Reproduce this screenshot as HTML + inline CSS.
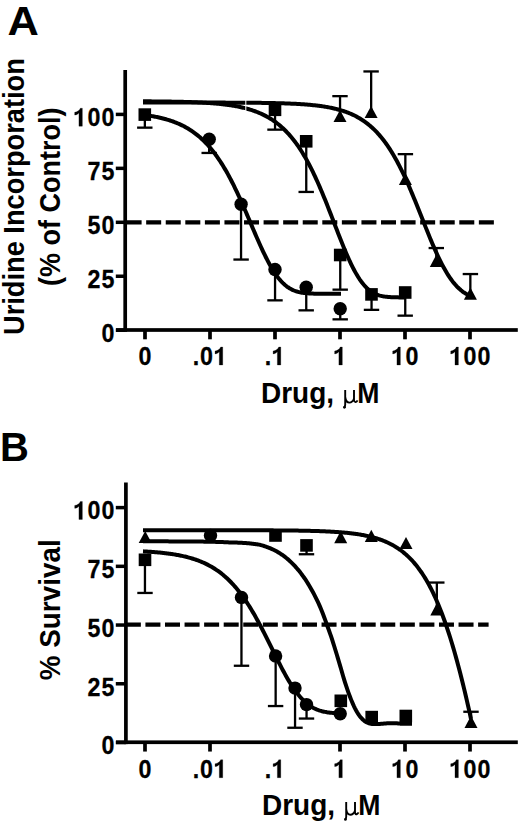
<!DOCTYPE html>
<html><head><meta charset="utf-8"><style>
html,body{margin:0;padding:0;background:#fff;width:520px;height:823px;overflow:hidden}
svg{display:block}
</style></head><body>
<svg width="520" height="823" viewBox="0 0 520 823">
<rect width="520" height="823" fill="#fff"/>
<g font-family="Liberation Sans, sans-serif" font-weight="bold" fill="#000">
<text transform="translate(7.6,35.1) scale(1.085,1.01)" font-size="40">A</text>
<text x="0" y="461.3" font-size="40">B</text>
<g font-size="25" stroke="#000" stroke-width="0.25">
<path transform="translate(73.09,126.20) scale(0.012207,-0.012756)" stroke-width="20" d="M478,0 H759 V1409 H590 C540,1260 360,1120 130,1090 V870 C270,880 400,940 478,1040 Z"/><text transform="translate(93.94,126.20) scale(0.93,1.045)" text-anchor="middle">0</text><text transform="translate(107.85,126.20) scale(0.93,1.045)" text-anchor="middle">0</text>
<text transform="translate(93.94,180.15) scale(0.93,1.045)" text-anchor="middle">7</text><text transform="translate(107.85,180.15) scale(0.93,1.045)" text-anchor="middle">5</text>
<text transform="translate(93.94,234.10) scale(0.93,1.045)" text-anchor="middle">5</text><text transform="translate(107.85,234.10) scale(0.93,1.045)" text-anchor="middle">0</text>
<text transform="translate(93.94,288.05) scale(0.93,1.045)" text-anchor="middle">2</text><text transform="translate(107.85,288.05) scale(0.93,1.045)" text-anchor="middle">5</text>
<text transform="translate(107.85,342.00) scale(0.93,1.045)" text-anchor="middle">0</text>
<text transform="translate(145.00,365.00) scale(0.93,1.045)" text-anchor="middle">0</text>
<text transform="translate(196.10,365.00) scale(0.93,1.045)" text-anchor="middle">.</text><text transform="translate(206.52,365.00) scale(0.93,1.045)" text-anchor="middle">0</text><path transform="translate(213.47,365.00) scale(0.012207,-0.012756)" stroke-width="20" d="M478,0 H759 V1409 H590 C540,1260 360,1120 130,1090 V870 C270,880 400,940 478,1040 Z"/>
<text transform="translate(268.05,365.00) scale(0.93,1.045)" text-anchor="middle">.</text><path transform="translate(271.52,365.00) scale(0.012207,-0.012756)" stroke-width="20" d="M478,0 H759 V1409 H590 C540,1260 360,1120 130,1090 V870 C270,880 400,940 478,1040 Z"/>
<path transform="translate(333.05,365.00) scale(0.012207,-0.012756)" stroke-width="20" d="M478,0 H759 V1409 H590 C540,1260 360,1120 130,1090 V870 C270,880 400,940 478,1040 Z"/>
<path transform="translate(391.10,365.00) scale(0.012207,-0.012756)" stroke-width="20" d="M478,0 H759 V1409 H590 C540,1260 360,1120 130,1090 V870 C270,880 400,940 478,1040 Z"/><text transform="translate(411.95,365.00) scale(0.93,1.045)" text-anchor="middle">0</text>
<path transform="translate(449.14,365.00) scale(0.012207,-0.012756)" stroke-width="20" d="M478,0 H759 V1409 H590 C540,1260 360,1120 130,1090 V870 C270,880 400,940 478,1040 Z"/><text transform="translate(470.00,365.00) scale(0.93,1.045)" text-anchor="middle">0</text><text transform="translate(483.90,365.00) scale(0.93,1.045)" text-anchor="middle">0</text>
<path transform="translate(73.09,519.40) scale(0.012207,-0.012756)" stroke-width="20" d="M478,0 H759 V1409 H590 C540,1260 360,1120 130,1090 V870 C270,880 400,940 478,1040 Z"/><text transform="translate(93.94,519.40) scale(0.93,1.045)" text-anchor="middle">0</text><text transform="translate(107.85,519.40) scale(0.93,1.045)" text-anchor="middle">0</text>
<text transform="translate(93.94,578.12) scale(0.93,1.045)" text-anchor="middle">7</text><text transform="translate(107.85,578.12) scale(0.93,1.045)" text-anchor="middle">5</text>
<text transform="translate(93.94,636.85) scale(0.93,1.045)" text-anchor="middle">5</text><text transform="translate(107.85,636.85) scale(0.93,1.045)" text-anchor="middle">0</text>
<text transform="translate(93.94,695.57) scale(0.93,1.045)" text-anchor="middle">2</text><text transform="translate(107.85,695.57) scale(0.93,1.045)" text-anchor="middle">5</text>
<text transform="translate(107.85,754.30) scale(0.93,1.045)" text-anchor="middle">0</text>
<text transform="translate(145.00,777.70) scale(0.93,1.045)" text-anchor="middle">0</text>
<text transform="translate(196.10,777.70) scale(0.93,1.045)" text-anchor="middle">.</text><text transform="translate(206.52,777.70) scale(0.93,1.045)" text-anchor="middle">0</text><path transform="translate(213.47,777.70) scale(0.012207,-0.012756)" stroke-width="20" d="M478,0 H759 V1409 H590 C540,1260 360,1120 130,1090 V870 C270,880 400,940 478,1040 Z"/>
<text transform="translate(268.05,777.70) scale(0.93,1.045)" text-anchor="middle">.</text><path transform="translate(271.52,777.70) scale(0.012207,-0.012756)" stroke-width="20" d="M478,0 H759 V1409 H590 C540,1260 360,1120 130,1090 V870 C270,880 400,940 478,1040 Z"/>
<path transform="translate(333.05,777.70) scale(0.012207,-0.012756)" stroke-width="20" d="M478,0 H759 V1409 H590 C540,1260 360,1120 130,1090 V870 C270,880 400,940 478,1040 Z"/>
<path transform="translate(391.10,777.70) scale(0.012207,-0.012756)" stroke-width="20" d="M478,0 H759 V1409 H590 C540,1260 360,1120 130,1090 V870 C270,880 400,940 478,1040 Z"/><text transform="translate(411.95,777.70) scale(0.93,1.045)" text-anchor="middle">0</text>
<path transform="translate(449.14,777.70) scale(0.012207,-0.012756)" stroke-width="20" d="M478,0 H759 V1409 H590 C540,1260 360,1120 130,1090 V870 C270,880 400,940 478,1040 Z"/><text transform="translate(470.00,777.70) scale(0.93,1.045)" text-anchor="middle">0</text><text transform="translate(483.90,777.70) scale(0.93,1.045)" text-anchor="middle">0</text>
</g>
<g font-size="28">
<g transform="translate(0,0)"><text transform="translate(261,402.5) scale(1,1.065)">Drug,</text><text transform="translate(357.3,402.5) scale(0.95,1.065)">M</text><path d="M345.2,389.9 V404.6 Q345.1,406.3 344.4,407.4 M345.3,397.5 Q346.2,402.6 349.3,402.6 Q352.6,402.6 353.9,398.8 M354,389.9 V400.2 Q354.3,402.3 355.7,402.1 Q356.8,401.9 357.5,400.3" fill="none" stroke="#000" stroke-width="1.9"/><circle cx="344.4" cy="407.3" r="1.35"/></g>
<g transform="translate(1.0,412.1)"><text transform="translate(261,402.5) scale(1,1.065)">Drug,</text><text transform="translate(357.3,402.5) scale(0.95,1.065)">M</text><path d="M345.2,389.9 V404.6 Q345.1,406.3 344.4,407.4 M345.3,397.5 Q346.2,402.6 349.3,402.6 Q352.6,402.6 353.9,398.8 M354,389.9 V400.2 Q354.3,402.3 355.7,402.1 Q356.8,401.9 357.5,400.3" fill="none" stroke="#000" stroke-width="1.9"/><circle cx="344.4" cy="407.3" r="1.35"/></g>
<text transform="translate(23.8,335) rotate(-90) scale(1,1.11)" font-size="27.25">Uridine Incorporation</text>
<text transform="translate(59.6,286) rotate(-90) scale(1,1.09)" font-size="27">(% of Control)</text>
<text transform="translate(60,680.2) rotate(-90) scale(1,1.05)" font-size="27.85">% Survival</text>
</g>
</g>
<g fill="#000">
<rect x="123.35000000000001" y="70" width="3.7" height="261.85"/>
<rect x="116" y="328.15" width="401.79999999999995" height="3.7"/>
<rect x="115.8" y="112.65" width="9.400000000000006" height="3.5"/>
<rect x="115.8" y="166.6" width="9.400000000000006" height="3.5"/>
<rect x="115.8" y="220.55" width="9.400000000000006" height="3.5"/>
<rect x="115.8" y="274.5" width="9.400000000000006" height="3.5"/>
<rect x="115.8" y="328.45" width="9.400000000000006" height="3.5"/>
<rect x="143.15" y="330.0" width="3.7" height="9.3"/>
<rect x="208.15" y="330.0" width="3.7" height="9.3"/>
<rect x="273.15" y="330.0" width="3.7" height="9.3"/>
<rect x="338.15" y="330.0" width="3.7" height="9.3"/>
<rect x="403.15" y="330.0" width="3.7" height="9.3"/>
<rect x="468.15" y="330.0" width="3.7" height="9.3"/>
<rect x="124.05000000000001" y="482.5" width="3.7" height="261.6"/>
<rect x="116" y="740.4" width="401.79999999999995" height="3.7"/>
<rect x="115.8" y="505.84999999999997" width="10.100000000000009" height="3.5"/>
<rect x="115.8" y="564.575" width="10.100000000000009" height="3.5"/>
<rect x="115.8" y="623.3" width="10.100000000000009" height="3.5"/>
<rect x="115.8" y="682.025" width="10.100000000000009" height="3.5"/>
<rect x="115.8" y="740.75" width="10.100000000000009" height="3.5"/>
<rect x="143.15" y="742.25" width="3.7" height="9.3"/>
<rect x="208.15" y="742.25" width="3.7" height="9.3"/>
<rect x="338.15" y="742.25" width="3.7" height="9.3"/>
<rect x="403.15" y="742.25" width="3.7" height="9.3"/>
<rect x="468.15" y="742.25" width="3.7" height="9.3"/>
</g>
<g stroke="#000" stroke-width="4.2" stroke-dasharray="15 4.57" fill="none">
<path d="M126.6,222.3 H494"/>
<path d="M125.85,624.6 H488.6"/>
</g>
<g stroke="#000" stroke-width="4.0" fill="none" stroke-linejoin="round">
<path d="M143.0,114.79 L144.0,114.92 L145.0,115.05 L146.0,115.19 L147.0,115.33 L148.0,115.48 L149.0,115.63 L150.0,115.79 L151.0,115.95 L152.0,116.12 L153.0,116.30 L154.0,116.48 L155.0,116.67 L156.0,116.87 L157.0,117.07 L158.0,117.28 L159.0,117.50 L160.0,117.73 L161.0,117.96 L162.0,118.20 L163.0,118.46 L164.0,118.72 L165.0,118.99 L166.0,119.26 L167.0,119.55 L168.0,119.85 L169.0,120.16 L170.0,120.48 L171.0,120.81 L172.0,121.16 L173.0,121.51 L174.0,121.88 L175.0,122.26 L176.0,122.66 L177.0,123.07 L178.0,123.49 L179.0,123.92 L180.0,124.38 L181.0,124.84 L182.0,125.33 L183.0,125.83 L184.0,126.34 L185.0,126.88 L186.0,127.43 L187.0,128.00 L188.0,128.59 L189.0,129.20 L190.0,129.83 L191.0,130.48 L192.0,131.15 L193.0,131.84 L194.0,132.55 L195.0,133.29 L196.0,134.06 L197.0,134.84 L198.0,135.65 L199.0,136.49 L200.0,137.35 L201.0,138.24 L202.0,139.16 L203.0,140.11 L204.0,141.08 L205.0,142.08 L206.0,143.12 L207.0,144.18 L208.0,145.27 L209.0,146.40 L210.0,147.56 L211.0,148.75 L212.0,149.97 L213.0,151.23 L214.0,152.52 L215.0,153.85 L216.0,155.21 L217.0,156.61 L218.0,158.04 L219.0,159.51 L220.0,161.02 L221.0,162.56 L222.0,164.14 L223.0,165.76 L224.0,167.42 L225.0,169.11 L226.0,170.84 L227.0,172.60 L228.0,174.40 L229.0,176.24 L230.0,178.12 L231.0,180.03 L232.0,181.97 L233.0,183.95 L234.0,185.96 L235.0,188.01 L236.0,190.09 L237.0,192.19 L238.0,194.33 L239.0,196.50 L240.0,198.69 L241.0,200.90 L242.0,203.14 L243.0,205.41 L244.0,207.69 L245.0,209.98 L246.0,212.30 L247.0,214.62 L248.0,216.96 L249.0,219.30 L250.0,221.65 L251.0,224.00 L252.0,226.36 L253.0,228.70 L254.0,231.05 L255.0,233.38 L256.0,235.70 L257.0,238.00 L258.0,240.29 L259.0,242.55 L260.0,244.79 L261.0,246.99 L262.0,249.17 L263.0,251.31 L264.0,253.41 L265.0,255.48 L266.0,257.49 L267.0,259.46 L268.0,261.39 L269.0,263.26 L270.0,265.07 L271.0,266.83 L272.0,268.54 L273.0,270.18 L274.0,271.76 L275.0,273.28 L276.0,274.73 L277.0,276.12 L278.0,277.45 L279.0,278.71 L280.0,279.91 L281.0,281.04 L282.0,282.11 L283.0,283.12 L284.0,284.07 L285.0,284.95 L286.0,285.78 L287.0,286.55 L288.0,287.26 L289.0,287.92 L290.0,288.53 L291.0,289.09 L292.0,289.60 L293.0,290.07 L294.0,290.49 L295.0,290.88 L296.0,291.23 L297.0,291.54 L298.0,291.82 L299.0,292.08 L300.0,292.30 L301.0,292.50 L302.0,292.68 L303.0,292.83 L304.0,292.97 L305.0,293.09 L306.0,293.20 L307.0,293.29 L308.0,293.36 L309.0,293.43 L310.0,293.49 L311.0,293.54 L312.0,293.58 L313.0,293.62 L314.0,293.65 L315.0,293.68 L316.0,293.70 L317.0,293.71 L318.0,293.73 L319.0,293.74 L320.0,293.75 L321.0,293.76 L322.0,293.77 L323.0,293.77 L324.0,293.78 L325.0,293.78 L326.0,293.78 L327.0,293.79 L328.0,293.79 L329.0,293.79 L330.0,293.79 L331.0,293.79 L332.0,293.79 L333.0,293.79 L334.0,293.79 L335.0,293.79 L336.0,293.79 L337.0,293.79 L338.0,293.79 L339.0,293.80 L340.0,293.80 L341.0,293.80"/>
<path d="M143.0,101.31 L144.0,101.32 L145.0,101.33 L146.0,101.33 L147.0,101.34 L148.0,101.35 L149.0,101.35 L150.0,101.36 L151.0,101.37 L152.0,101.38 L153.0,101.39 L154.0,101.39 L155.0,101.40 L156.0,101.41 L157.0,101.42 L158.0,101.43 L159.0,101.44 L160.0,101.45 L161.0,101.47 L162.0,101.48 L163.0,101.49 L164.0,101.50 L165.0,101.52 L166.0,101.53 L167.0,101.55 L168.0,101.56 L169.0,101.58 L170.0,101.59 L171.0,101.61 L172.0,101.63 L173.0,101.64 L174.0,101.66 L175.0,101.68 L176.0,101.70 L177.0,101.72 L178.0,101.74 L179.0,101.77 L180.0,101.79 L181.0,101.81 L182.0,101.84 L183.0,101.86 L184.0,101.89 L185.0,101.92 L186.0,101.95 L187.0,101.98 L188.0,102.01 L189.0,102.04 L190.0,102.08 L191.0,102.11 L192.0,102.15 L193.0,102.19 L194.0,102.22 L195.0,102.26 L196.0,102.31 L197.0,102.35 L198.0,102.40 L199.0,102.44 L200.0,102.49 L201.0,102.54 L202.0,102.59 L203.0,102.65 L204.0,102.71 L205.0,102.76 L206.0,102.82 L207.0,102.89 L208.0,102.95 L209.0,103.02 L210.0,103.09 L211.0,103.16 L212.0,103.24 L213.0,103.32 L214.0,103.40 L215.0,103.48 L216.0,103.57 L217.0,103.66 L218.0,103.76 L219.0,103.86 L220.0,103.96 L221.0,104.06 L222.0,104.17 L223.0,104.29 L224.0,104.40 L225.0,104.53 L226.0,104.65 L227.0,104.78 L228.0,104.92 L229.0,105.06 L230.0,105.21 L231.0,105.36 L232.0,105.52 L233.0,105.68 L234.0,105.85 L235.0,106.02 L236.0,106.21 L237.0,106.39 L238.0,106.59 L239.0,106.79 L240.0,107.00 L241.0,107.22 L242.0,107.45 L243.0,107.68 L244.0,107.92 L245.0,108.17 L246.0,108.43 L247.0,108.70 L248.0,108.98 L249.0,109.27 L250.0,109.57 L251.0,109.89 L252.0,110.21 L253.0,110.54 L254.0,110.89 L255.0,111.25 L256.0,111.62 L257.0,112.00 L258.0,112.40 L259.0,112.81 L260.0,113.24 L261.0,113.68 L262.0,114.14 L263.0,114.61 L264.0,115.10 L265.0,115.61 L266.0,116.13 L267.0,116.67 L268.0,117.24 L269.0,117.82 L270.0,118.42 L271.0,119.04 L272.0,119.68 L273.0,120.34 L274.0,121.03 L275.0,121.74 L276.0,122.47 L277.0,123.23 L278.0,124.01 L279.0,124.82 L280.0,125.65 L281.0,126.51 L282.0,127.40 L283.0,128.32 L284.0,129.26 L285.0,130.24 L286.0,131.25 L287.0,132.28 L288.0,133.35 L289.0,134.46 L290.0,135.59 L291.0,136.76 L292.0,137.97 L293.0,139.21 L294.0,140.48 L295.0,141.80 L296.0,143.15 L297.0,144.53 L298.0,145.96 L299.0,147.43 L300.0,148.93 L301.0,150.47 L302.0,152.06 L303.0,153.69 L304.0,155.35 L305.0,157.06 L306.0,158.81 L307.0,160.60 L308.0,162.44 L309.0,164.31 L310.0,166.23 L311.0,168.18 L312.0,170.18 L313.0,172.22 L314.0,174.30 L315.0,176.42 L316.0,178.58 L317.0,180.78 L318.0,183.01 L319.0,185.28 L320.0,187.59 L321.0,189.93 L322.0,192.30 L323.0,194.71 L324.0,197.14 L325.0,199.60 L326.0,202.08 L327.0,204.59 L328.0,207.12 L329.0,209.67 L330.0,212.23 L331.0,214.80 L332.0,217.39 L333.0,219.98 L334.0,222.57 L335.0,225.17 L336.0,227.76 L337.0,230.34 L338.0,232.92 L339.0,235.48 L340.0,238.03 L341.0,240.55 L342.0,243.05 L343.0,245.52 L344.0,247.95 L345.0,250.35 L346.0,252.71 L347.0,255.03 L348.0,257.30 L349.0,259.52 L350.0,261.68 L351.0,263.79 L352.0,265.84 L353.0,267.82 L354.0,269.74 L355.0,271.59 L356.0,273.38 L357.0,275.09 L358.0,276.73 L359.0,278.30 L360.0,279.80 L361.0,281.22 L362.0,282.56 L363.0,283.83 L364.0,285.03 L365.0,286.15 L366.0,287.21 L367.0,288.19 L368.0,289.10 L369.0,289.95 L370.0,290.73 L371.0,291.45 L372.0,292.12 L373.0,292.72 L374.0,293.27 L375.0,293.77 L376.0,294.22 L377.0,294.63 L378.0,294.99 L379.0,295.32 L380.0,295.61 L381.0,295.86 L382.0,296.09 L383.0,296.29 L384.0,296.46 L385.0,296.61 L386.0,296.74 L387.0,296.85 L388.0,296.95 L389.0,297.03 L390.0,297.10 L391.0,297.16 L392.0,297.21 L393.0,297.25 L394.0,297.28 L395.0,297.31 L396.0,297.34 L397.0,297.36 L398.0,297.37 L399.0,297.38 L400.0,297.39 L401.0,297.40 L402.0,297.41 L403.0,297.41 L404.0,297.42 L405.0,297.42"/>
<path d="M143.0,102.55 L144.0,102.55 L145.0,102.55 L146.0,102.55 L147.0,102.55 L148.0,102.55 L149.0,102.55 L150.0,102.55 L151.0,102.55 L152.0,102.55 L153.0,102.55 L154.0,102.55 L155.0,102.55 L156.0,102.55 L157.0,102.55 L158.0,102.55 L159.0,102.55 L160.0,102.55 L161.0,102.55 L162.0,102.55 L163.0,102.55 L164.0,102.55 L165.0,102.55 L166.0,102.55 L167.0,102.55 L168.0,102.55 L169.0,102.55 L170.0,102.55 L171.0,102.55 L172.0,102.55 L173.0,102.55 L174.0,102.55 L175.0,102.55 L176.0,102.55 L177.0,102.56 L178.0,102.56 L179.0,102.56 L180.0,102.56 L181.0,102.56 L182.0,102.56 L183.0,102.56 L184.0,102.56 L185.0,102.56 L186.0,102.56 L187.0,102.56 L188.0,102.56 L189.0,102.56 L190.0,102.56 L191.0,102.56 L192.0,102.56 L193.0,102.57 L194.0,102.57 L195.0,102.57 L196.0,102.57 L197.0,102.57 L198.0,102.57 L199.0,102.57 L200.0,102.57 L201.0,102.57 L202.0,102.58 L203.0,102.58 L204.0,102.58 L205.0,102.58 L206.0,102.58 L207.0,102.58 L208.0,102.58 L209.0,102.59 L210.0,102.59 L211.0,102.59 L212.0,102.59 L213.0,102.59 L214.0,102.59 L215.0,102.60 L216.0,102.60 L217.0,102.60 L218.0,102.60 L219.0,102.61 L220.0,102.61 L221.0,102.61 L222.0,102.61 L223.0,102.62 L224.0,102.62 L225.0,102.62 L226.0,102.63 L227.0,102.63 L228.0,102.63 L229.0,102.64 L230.0,102.64 L231.0,102.64 L232.0,102.65 L233.0,102.65 L234.0,102.66 L235.0,102.66 L236.0,102.67 L237.0,102.67 L238.0,102.68 L239.0,102.68 L240.0,102.69 L241.0,102.69 L242.0,102.70 L243.0,102.71 L244.0,102.71 L245.0,102.72 L246.0,102.73 L247.0,102.73 L248.0,102.74 L249.0,102.75 L250.0,102.76 L251.0,102.77 L252.0,102.78 L253.0,102.78 L254.0,102.79 L255.0,102.80 L256.0,102.82 L257.0,102.83 L258.0,102.84 L259.0,102.85 L260.0,102.86 L261.0,102.87 L262.0,102.89 L263.0,102.90 L264.0,102.92 L265.0,102.93 L266.0,102.95 L267.0,102.96 L268.0,102.98 L269.0,103.00 L270.0,103.02 L271.0,103.04 L272.0,103.06 L273.0,103.08 L274.0,103.10 L275.0,103.12 L276.0,103.14 L277.0,103.17 L278.0,103.19 L279.0,103.22 L280.0,103.25 L281.0,103.28 L282.0,103.31 L283.0,103.34 L284.0,103.37 L285.0,103.40 L286.0,103.44 L287.0,103.47 L288.0,103.51 L289.0,103.55 L290.0,103.59 L291.0,103.63 L292.0,103.68 L293.0,103.72 L294.0,103.77 L295.0,103.82 L296.0,103.87 L297.0,103.92 L298.0,103.98 L299.0,104.04 L300.0,104.10 L301.0,104.16 L302.0,104.22 L303.0,104.29 L304.0,104.36 L305.0,104.44 L306.0,104.51 L307.0,104.59 L308.0,104.67 L309.0,104.76 L310.0,104.85 L311.0,104.94 L312.0,105.04 L313.0,105.14 L314.0,105.24 L315.0,105.35 L316.0,105.46 L317.0,105.58 L318.0,105.70 L319.0,105.83 L320.0,105.96 L321.0,106.10 L322.0,106.24 L323.0,106.39 L324.0,106.54 L325.0,106.70 L326.0,106.87 L327.0,107.04 L328.0,107.22 L329.0,107.41 L330.0,107.60 L331.0,107.80 L332.0,108.01 L333.0,108.23 L334.0,108.45 L335.0,108.69 L336.0,108.93 L337.0,109.19 L338.0,109.45 L339.0,109.72 L340.0,110.01 L341.0,110.30 L342.0,110.61 L343.0,110.92 L344.0,111.25 L345.0,111.60 L346.0,111.95 L347.0,112.32 L348.0,112.70 L349.0,113.10 L350.0,113.51 L351.0,113.94 L352.0,114.38 L353.0,114.84 L354.0,115.32 L355.0,115.81 L356.0,116.33 L357.0,116.86 L358.0,117.41 L359.0,117.98 L360.0,118.57 L361.0,119.19 L362.0,119.82 L363.0,120.48 L364.0,121.16 L365.0,121.87 L366.0,122.60 L367.0,123.35 L368.0,124.14 L369.0,124.94 L370.0,125.78 L371.0,126.64 L372.0,127.54 L373.0,128.46 L374.0,129.42 L375.0,130.40 L376.0,131.42 L377.0,132.47 L378.0,133.55 L379.0,134.67 L380.0,135.83 L381.0,137.01 L382.0,138.24 L383.0,139.50 L384.0,140.80 L385.0,142.14 L386.0,143.52 L387.0,144.93 L388.0,146.39 L389.0,147.88 L390.0,149.42 L391.0,151.00 L392.0,152.62 L393.0,154.28 L394.0,155.98 L395.0,157.72 L396.0,159.51 L397.0,161.33 L398.0,163.20 L399.0,165.11 L400.0,167.06 L401.0,169.05 L402.0,171.08 L403.0,173.15 L404.0,175.25 L405.0,177.40 L406.0,179.58 L407.0,181.79 L408.0,184.04 L409.0,186.32 L410.0,188.64 L411.0,190.98 L412.0,193.35 L413.0,195.75 L414.0,198.17 L415.0,200.61 L416.0,203.07 L417.0,205.54 L418.0,208.03 L419.0,210.53 L420.0,213.04 L421.0,215.56 L422.0,218.08 L423.0,220.60 L424.0,223.11 L425.0,225.62 L426.0,228.12 L427.0,230.61 L428.0,233.08 L429.0,235.53 L430.0,237.96 L431.0,240.37 L432.0,242.75 L433.0,245.09 L434.0,247.40 L435.0,249.68 L436.0,251.91 L437.0,254.10 L438.0,256.25 L439.0,258.35 L440.0,260.40 L441.0,262.40 L442.0,264.34 L443.0,266.23 L444.0,268.06 L445.0,269.84 L446.0,271.56 L447.0,273.22 L448.0,274.82 L449.0,276.36 L450.0,277.83 L451.0,279.25 L452.0,280.61 L453.0,281.91 L454.0,283.15 L455.0,284.33 L456.0,285.45 L457.0,286.51 L458.0,287.53 L459.0,288.48 L460.0,289.39 L461.0,290.24 L462.0,291.04 L463.0,291.80 L464.0,292.51 L465.0,293.17 L466.0,293.80 L467.0,294.38 L468.0,294.92 L469.0,295.43 L470.0,295.90 L471.0,296.33"/>
<path d="M143.0,551.37 L144.0,551.42 L145.0,551.48 L146.0,551.53 L147.0,551.59 L148.0,551.66 L149.0,551.72 L150.0,551.79 L151.0,551.86 L152.0,551.93 L153.0,552.01 L154.0,552.08 L155.0,552.17 L156.0,552.25 L157.0,552.34 L158.0,552.42 L159.0,552.52 L160.0,552.61 L161.0,552.71 L162.0,552.82 L163.0,552.93 L164.0,553.04 L165.0,553.15 L166.0,553.27 L167.0,553.40 L168.0,553.52 L169.0,553.66 L170.0,553.79 L171.0,553.94 L172.0,554.09 L173.0,554.24 L174.0,554.40 L175.0,554.56 L176.0,554.73 L177.0,554.91 L178.0,555.09 L179.0,555.28 L180.0,555.48 L181.0,555.68 L182.0,555.89 L183.0,556.11 L184.0,556.34 L185.0,556.57 L186.0,556.81 L187.0,557.06 L188.0,557.32 L189.0,557.59 L190.0,557.87 L191.0,558.16 L192.0,558.46 L193.0,558.76 L194.0,559.08 L195.0,559.41 L196.0,559.75 L197.0,560.11 L198.0,560.47 L199.0,560.85 L200.0,561.24 L201.0,561.65 L202.0,562.06 L203.0,562.50 L204.0,562.94 L205.0,563.40 L206.0,563.88 L207.0,564.37 L208.0,564.88 L209.0,565.41 L210.0,565.95 L211.0,566.51 L212.0,567.09 L213.0,567.69 L214.0,568.31 L215.0,568.95 L216.0,569.60 L217.0,570.28 L218.0,570.98 L219.0,571.70 L220.0,572.45 L221.0,573.21 L222.0,574.00 L223.0,574.82 L224.0,575.66 L225.0,576.52 L226.0,577.41 L227.0,578.32 L228.0,579.26 L229.0,580.23 L230.0,581.23 L231.0,582.25 L232.0,583.30 L233.0,584.38 L234.0,585.49 L235.0,586.63 L236.0,587.80 L237.0,589.00 L238.0,590.23 L239.0,591.49 L240.0,592.78 L241.0,594.10 L242.0,595.45 L243.0,596.84 L244.0,598.25 L245.0,599.70 L246.0,601.18 L247.0,602.69 L248.0,604.23 L249.0,605.80 L250.0,607.41 L251.0,609.04 L252.0,610.70 L253.0,612.39 L254.0,614.12 L255.0,615.86 L256.0,617.64 L257.0,619.44 L258.0,621.27 L259.0,623.12 L260.0,624.99 L261.0,626.89 L262.0,628.80 L263.0,630.74 L264.0,632.69 L265.0,634.66 L266.0,636.64 L267.0,638.63 L268.0,640.64 L269.0,642.65 L270.0,644.67 L271.0,646.69 L272.0,648.72 L273.0,650.74 L274.0,652.77 L275.0,654.78 L276.0,656.79 L277.0,658.79 L278.0,660.78 L279.0,662.75 L280.0,664.71 L281.0,666.64 L282.0,668.56 L283.0,670.44 L284.0,672.30 L285.0,674.14 L286.0,675.93 L287.0,677.70 L288.0,679.43 L289.0,681.12 L290.0,682.77 L291.0,684.38 L292.0,685.94 L293.0,687.46 L294.0,688.94 L295.0,690.37 L296.0,691.75 L297.0,693.08 L298.0,694.35 L299.0,695.58 L300.0,696.76 L301.0,697.89 L302.0,698.97 L303.0,700.00 L304.0,700.97 L305.0,701.90 L306.0,702.78 L307.0,703.61 L308.0,704.39 L309.0,705.13 L310.0,705.82 L311.0,706.47 L312.0,707.08 L313.0,707.65 L314.0,708.18 L315.0,708.67 L316.0,709.12 L317.0,709.54 L318.0,709.93 L319.0,710.29 L320.0,710.62 L321.0,710.92 L322.0,711.20 L323.0,711.45 L324.0,711.68 L325.0,711.89 L326.0,712.07 L327.0,712.25 L328.0,712.40 L329.0,712.54 L330.0,712.66 L331.0,712.78 L332.0,712.88 L333.0,712.97 L334.0,713.05 L335.0,713.12 L336.0,713.18 L337.0,713.24 L338.0,713.29 L339.0,713.33 L340.0,713.37 L341.0,713.40"/>
<path d="M143.0,541.33 L144.0,541.33 L145.0,541.33 L146.0,541.34 L147.0,541.34 L148.0,541.34 L149.0,541.34 L150.0,541.34 L151.0,541.34 L152.0,541.34 L153.0,541.34 L154.0,541.34 L155.0,541.35 L156.0,541.35 L157.0,541.35 L158.0,541.35 L159.0,541.35 L160.0,541.35 L161.0,541.36 L162.0,541.36 L163.0,541.36 L164.0,541.36 L165.0,541.37 L166.0,541.37 L167.0,541.37 L168.0,541.37 L169.0,541.38 L170.0,541.38 L171.0,541.38 L172.0,541.39 L173.0,541.39 L174.0,541.39 L175.0,541.40 L176.0,541.40 L177.0,541.40 L178.0,541.41 L179.0,541.41 L180.0,541.42 L181.0,541.42 L182.0,541.43 L183.0,541.43 L184.0,541.44 L185.0,541.45 L186.0,541.45 L187.0,541.46 L188.0,541.47 L189.0,541.47 L190.0,541.48 L191.0,541.49 L192.0,541.50 L193.0,541.51 L194.0,541.52 L195.0,541.53 L196.0,541.54 L197.0,541.55 L198.0,541.56 L199.0,541.57 L200.0,541.58 L201.0,541.60 L202.0,541.61 L203.0,541.62 L204.0,541.64 L205.0,541.66 L206.0,541.67 L207.0,541.69 L208.0,541.71 L209.0,541.73 L210.0,541.75 L211.0,541.77 L212.0,541.79 L213.0,541.81 L214.0,541.84 L215.0,541.86 L216.0,541.89 L217.0,541.92 L218.0,541.95 L219.0,541.98 L220.0,542.01 L221.0,542.04 L222.0,542.08 L223.0,542.12 L224.0,542.16 L225.0,542.20 L226.0,542.24 L227.0,542.28 L228.0,542.33 L229.0,542.38 L230.0,542.43 L231.0,542.45 L232.0,542.47 L233.0,542.49 L234.0,542.52 L235.0,542.55 L236.0,542.58 L237.0,542.61 L238.0,542.65 L239.0,542.70 L240.0,542.74 L241.0,542.79 L242.0,542.85 L243.0,542.90 L244.0,542.97 L245.0,543.04 L246.0,543.11 L247.0,543.19 L248.0,543.27 L249.0,543.36 L250.0,543.46 L251.0,543.56 L252.0,543.67 L253.0,543.78 L254.0,543.91 L255.0,544.04 L256.0,544.18 L257.0,544.32 L258.0,544.48 L259.0,544.64 L260.0,544.82 L261.0,545.09 L262.0,545.38 L263.0,545.68 L264.0,545.99 L265.0,546.32 L266.0,546.66 L267.0,547.02 L268.0,547.39 L269.0,547.79 L270.0,548.19 L271.0,548.62 L272.0,549.07 L273.0,549.53 L274.0,550.02 L275.0,550.52 L276.0,551.05 L277.0,551.60 L278.0,552.18 L279.0,552.78 L280.0,553.40 L281.0,554.06 L282.0,554.73 L283.0,555.44 L284.0,556.17 L285.0,556.93 L286.0,557.72 L287.0,558.54 L288.0,559.39 L289.0,560.27 L290.0,561.17 L291.0,562.11 L292.0,563.09 L293.0,564.09 L294.0,565.13 L295.0,566.20 L296.0,567.31 L297.0,568.45 L298.0,569.63 L299.0,570.85 L300.0,572.10 L301.0,573.40 L302.0,574.73 L303.0,576.11 L304.0,577.52 L305.0,578.98 L306.0,580.48 L307.0,582.03 L308.0,583.62 L309.0,585.26 L310.0,586.94 L311.0,588.67 L312.0,590.44 L313.0,592.26 L314.0,594.14 L315.0,596.07 L316.0,598.06 L317.0,600.11 L318.0,602.22 L319.0,604.41 L320.0,606.67 L321.0,609.02 L322.0,611.47 L323.0,614.03 L324.0,616.69 L325.0,619.42 L326.0,622.19 L327.0,624.96 L328.0,627.71 L329.0,630.48 L330.0,633.30 L331.0,636.21 L332.0,639.21 L333.0,642.31 L334.0,645.48 L335.0,648.72 L336.0,651.99 L337.0,655.29 L338.0,658.61 L339.0,661.96 L340.0,665.35 L341.0,668.81 L342.0,672.32 L343.0,675.78 L344.0,679.14 L345.0,682.37 L346.0,685.47 L347.0,688.45 L348.0,691.34 L349.0,694.13 L350.0,696.80 L351.0,699.36 L352.0,701.79 L353.0,704.10 L354.0,706.28 L355.0,708.32 L356.0,710.22 L357.0,711.99 L358.0,713.62 L359.0,715.11 L360.0,716.46 L361.0,717.68 L362.0,718.77 L363.0,719.74 L364.0,720.58 L365.0,721.32 L366.0,721.94 L367.0,722.47 L368.0,722.91 L369.0,723.26 L370.0,723.54 L371.0,723.75 L372.0,723.90 L373.0,724.01 L374.0,724.07 L375.0,724.09 L376.0,724.09 L377.0,724.06 L378.0,724.01 L379.0,723.95 L380.0,723.88 L381.0,723.81 L382.0,723.73 L383.0,723.65 L384.0,723.57 L385.0,723.50 L386.0,723.43 L387.0,723.37 L388.0,723.32 L389.0,723.28 L390.0,723.25 L391.0,723.23 L392.0,723.22 L393.0,723.22 L394.0,723.23 L395.0,723.26 L396.0,723.30 L397.0,723.36 L398.0,723.43 L399.0,723.52 L400.0,723.63 L401.0,723.63 L402.0,723.63 L403.0,723.63 L404.0,723.63 L405.0,723.63 L406.0,723.63 L407.0,723.63 L408.0,723.63 L409.0,723.63 L410.0,723.63 L411.0,723.63 L412.0,723.63"/>
<path d="M143.0,530.22 L144.0,530.22 L145.0,530.22 L146.0,530.22 L147.0,530.22 L148.0,530.22 L149.0,530.22 L150.0,530.22 L151.0,530.22 L152.0,530.22 L153.0,530.22 L154.0,530.22 L155.0,530.22 L156.0,530.22 L157.0,530.22 L158.0,530.22 L159.0,530.22 L160.0,530.22 L161.0,530.22 L162.0,530.22 L163.0,530.22 L164.0,530.22 L165.0,530.22 L166.0,530.22 L167.0,530.22 L168.0,530.22 L169.0,530.22 L170.0,530.22 L171.0,530.22 L172.0,530.22 L173.0,530.22 L174.0,530.22 L175.0,530.22 L176.0,530.22 L177.0,530.22 L178.0,530.22 L179.0,530.22 L180.0,530.22 L181.0,530.22 L182.0,530.22 L183.0,530.22 L184.0,530.22 L185.0,530.22 L186.0,530.22 L187.0,530.22 L188.0,530.22 L189.0,530.22 L190.0,530.22 L191.0,530.22 L192.0,530.22 L193.0,530.22 L194.0,530.22 L195.0,530.22 L196.0,530.22 L197.0,530.22 L198.0,530.22 L199.0,530.22 L200.0,530.23 L201.0,530.23 L202.0,530.23 L203.0,530.23 L204.0,530.23 L205.0,530.23 L206.0,530.23 L207.0,530.23 L208.0,530.23 L209.0,530.23 L210.0,530.23 L211.0,530.23 L212.0,530.23 L213.0,530.23 L214.0,530.23 L215.0,530.23 L216.0,530.23 L217.0,530.23 L218.0,530.23 L219.0,530.24 L220.0,530.24 L221.0,530.24 L222.0,530.24 L223.0,530.24 L224.0,530.24 L225.0,530.24 L226.0,530.24 L227.0,530.24 L228.0,530.24 L229.0,530.24 L230.0,530.25 L231.0,530.25 L232.0,530.25 L233.0,530.25 L234.0,530.25 L235.0,530.25 L236.0,530.25 L237.0,530.25 L238.0,530.26 L239.0,530.26 L240.0,530.26 L241.0,530.26 L242.0,530.26 L243.0,530.26 L244.0,530.27 L245.0,530.27 L246.0,530.27 L247.0,530.27 L248.0,530.27 L249.0,530.28 L250.0,530.28 L251.0,530.28 L252.0,530.28 L253.0,530.29 L254.0,530.29 L255.0,530.29 L256.0,530.30 L257.0,530.30 L258.0,530.30 L259.0,530.31 L260.0,530.31 L261.0,530.31 L262.0,530.32 L263.0,530.32 L264.0,530.32 L265.0,530.33 L266.0,530.33 L267.0,530.34 L268.0,530.34 L269.0,530.35 L270.0,530.35 L271.0,530.36 L272.0,530.36 L273.0,530.37 L274.0,530.38 L275.0,530.38 L276.0,530.39 L277.0,530.40 L278.0,530.40 L279.0,530.41 L280.0,530.42 L281.0,530.43 L282.0,530.43 L283.0,530.44 L284.0,530.45 L285.0,530.46 L286.0,530.47 L287.0,530.48 L288.0,530.49 L289.0,530.50 L290.0,530.51 L291.0,530.52 L292.0,530.54 L293.0,530.55 L294.0,530.56 L295.0,530.58 L296.0,530.59 L297.0,530.60 L298.0,530.62 L299.0,530.64 L300.0,530.65 L301.0,530.67 L302.0,530.69 L303.0,530.70 L304.0,530.72 L305.0,530.74 L306.0,530.76 L307.0,530.79 L308.0,530.81 L309.0,530.83 L310.0,530.86 L311.0,530.88 L312.0,530.91 L313.0,530.93 L314.0,530.96 L315.0,530.99 L316.0,531.02 L317.0,531.05 L318.0,531.09 L319.0,531.12 L320.0,531.16 L321.0,531.19 L322.0,531.23 L323.0,531.27 L324.0,531.31 L325.0,531.35 L326.0,531.40 L327.0,531.45 L328.0,531.49 L329.0,531.54 L330.0,531.60 L331.0,531.65 L332.0,531.71 L333.0,531.76 L334.0,531.82 L335.0,531.89 L336.0,531.95 L337.0,532.02 L338.0,532.09 L339.0,532.16 L340.0,532.24 L341.0,532.32 L342.0,532.40 L343.0,532.49 L344.0,532.57 L345.0,532.67 L346.0,532.76 L347.0,532.86 L348.0,532.96 L349.0,533.07 L350.0,533.18 L351.0,533.30 L352.0,533.42 L353.0,533.54 L354.0,533.67 L355.0,533.81 L356.0,533.95 L357.0,534.09 L358.0,534.24 L359.0,534.40 L360.0,534.56 L361.0,534.73 L362.0,534.91 L363.0,535.09 L364.0,535.28 L365.0,535.47 L366.0,535.68 L367.0,535.89 L368.0,536.11 L369.0,536.34 L370.0,536.57 L371.0,536.82 L372.0,537.07 L373.0,537.34 L374.0,537.61 L375.0,537.90 L376.0,538.19 L377.0,538.50 L378.0,538.82 L379.0,539.15 L380.0,539.49 L381.0,539.85 L382.0,540.22 L383.0,540.60 L384.0,541.00 L385.0,541.41 L386.0,541.84 L387.0,542.28 L388.0,542.74 L389.0,543.22 L390.0,543.71 L391.0,544.22 L392.0,544.75 L393.0,545.30 L394.0,545.87 L395.0,546.46 L396.0,547.08 L397.0,547.71 L398.0,548.37 L399.0,549.05 L400.0,549.75 L401.0,550.49 L402.0,551.24 L403.0,552.03 L404.0,552.84 L405.0,553.68 L406.0,554.54 L407.0,555.44 L408.0,556.37 L409.0,557.34 L410.0,558.33 L411.0,559.36 L412.0,560.42 L413.0,561.52 L414.0,562.66 L415.0,563.83 L416.0,565.05 L417.0,566.30 L418.0,567.60 L419.0,568.93 L420.0,570.31 L421.0,571.74 L422.0,573.21 L423.0,574.73 L424.0,576.29 L425.0,577.90 L426.0,579.57 L427.0,581.28 L428.0,583.04 L429.0,584.86 L430.0,586.74 L431.0,588.66 L432.0,590.65 L433.0,592.69 L434.0,594.79 L435.0,596.95 L436.0,599.16 L437.0,601.44 L438.0,603.79 L439.0,606.19 L440.0,608.66 L441.0,611.19 L442.0,613.79 L443.0,616.46 L444.0,619.19 L445.0,621.99 L446.0,624.85 L447.0,627.79 L448.0,630.79 L449.0,633.86 L450.0,637.01 L451.0,640.22 L452.0,643.50 L453.0,646.86 L454.0,650.28 L455.0,653.77 L456.0,657.34 L457.0,660.97 L458.0,664.68 L459.0,668.45 L460.0,672.30 L461.0,676.21 L462.0,680.19 L463.0,684.24 L464.0,688.36 L465.0,692.54 L466.0,696.79 L467.0,701.10 L468.0,705.48 L469.0,709.92 L470.0,714.42 L471.0,718.99"/>
</g>
<g fill="#000">
<rect x="143.7" y="114.6" width="2.3" height="13.1"/><rect x="137.1" y="126.5" width="15.4" height="2.3"/>
<rect x="273.9" y="109.8" width="2.3" height="19.9"/><rect x="267.3" y="128.5" width="15.4" height="2.3"/>
<rect x="305.1" y="141.3" width="2.3" height="50.7"/><rect x="298.5" y="190.8" width="15.4" height="2.3"/>
<rect x="339.1" y="255.0" width="2.3" height="34.6"/><rect x="332.5" y="288.5" width="15.4" height="2.3"/>
<rect x="370.4" y="294.4" width="2.3" height="15.4"/><rect x="363.8" y="308.7" width="15.4" height="2.3"/>
<rect x="404.1" y="292.5" width="2.3" height="23.1"/><rect x="397.5" y="314.5" width="15.4" height="2.3"/>
<rect x="208.0" y="139.2" width="2.3" height="13.8"/><rect x="201.5" y="151.8" width="15.4" height="2.3"/>
<rect x="239.9" y="204.2" width="2.3" height="55.3"/><rect x="233.4" y="258.4" width="15.4" height="2.3"/>
<rect x="273.9" y="269.5" width="2.3" height="30.9"/><rect x="267.3" y="299.2" width="15.4" height="2.3"/>
<rect x="305.1" y="287.2" width="2.3" height="23.1"/><rect x="298.5" y="309.2" width="15.4" height="2.3"/>
<rect x="339.1" y="308.8" width="2.3" height="10.6"/><rect x="332.5" y="318.2" width="15.4" height="2.3"/>
<rect x="338.9" y="96.2" width="2.3" height="19.8"/><rect x="332.3" y="95.0" width="15.4" height="2.3"/>
<rect x="370.0" y="71.5" width="2.3" height="40.5"/><rect x="363.4" y="70.3" width="15.4" height="2.3"/>
<rect x="404.2" y="154.2" width="2.3" height="24.6"/><rect x="397.7" y="153.0" width="15.4" height="2.3"/>
<rect x="435.2" y="248.1" width="2.3" height="12.7"/><rect x="428.6" y="246.9" width="15.4" height="2.3"/>
<rect x="469.2" y="274.0" width="2.3" height="19.6"/><rect x="462.7" y="272.9" width="15.4" height="2.3"/>
<circle cx="209.2" cy="139.2" r="6.7"/>
<circle cx="241.1" cy="204.2" r="6.7"/>
<circle cx="275" cy="269.5" r="6.7"/>
<circle cx="306.2" cy="287.2" r="6.7"/>
<circle cx="340.2" cy="308.8" r="6.7"/>
<rect x="138.5" y="108.3" width="12.6" height="12.6"/>
<rect x="268.7" y="103.5" width="12.6" height="12.6"/>
<rect x="299.9" y="135.0" width="12.6" height="12.6"/>
<rect x="333.9" y="248.7" width="12.6" height="12.6"/>
<rect x="365.2" y="288.1" width="12.6" height="12.6"/>
<rect x="398.9" y="286.2" width="12.6" height="12.6"/>
<path d="M340.0,109.9 L346.5,122.1 L333.5,122.1Z"/>
<path d="M371.1,105.9 L377.6,118.1 L364.6,118.1Z"/>
<path d="M405.4,172.7 L411.9,184.9 L398.9,184.9Z"/>
<path d="M436.3,254.7 L442.8,266.9 L429.8,266.9Z"/>
<path d="M470.4,287.5 L476.9,299.7 L463.9,299.7Z"/>
<rect x="245.3" y="99.5" width="1" height="11.5" fill="#fff"/>
<rect x="143.8" y="559.8" width="2.3" height="33.1"/><rect x="137.3" y="591.8" width="15.4" height="2.3"/>
<rect x="305.4" y="545.4" width="2.3" height="8.8"/><rect x="298.8" y="553.1" width="15.4" height="2.3"/>
<rect x="240.3" y="597.4" width="2.3" height="68.3"/><rect x="233.8" y="664.6" width="15.4" height="2.3"/>
<rect x="274.5" y="655.9" width="2.3" height="50.1"/><rect x="267.9" y="704.9" width="15.4" height="2.3"/>
<rect x="293.9" y="688.1" width="2.3" height="39.6"/><rect x="287.3" y="726.6" width="15.4" height="2.3"/>
<rect x="305.4" y="704.6" width="2.3" height="13.9"/><rect x="298.8" y="717.4" width="15.4" height="2.3"/>
<rect x="435.7" y="582.5" width="2.3" height="26.8"/><rect x="429.1" y="581.4" width="15.4" height="2.3"/>
<rect x="469.9" y="711.8" width="2.3" height="10.1"/><rect x="463.3" y="710.6" width="15.4" height="2.3"/>
<circle cx="210.5" cy="535.5" r="6.7"/>
<circle cx="241.5" cy="597.4" r="6.7"/>
<circle cx="275.6" cy="655.9" r="6.7"/>
<circle cx="295" cy="688.1" r="6.7"/>
<circle cx="306.5" cy="704.6" r="6.7"/>
<circle cx="340.2" cy="713.7" r="6.7"/>
<rect x="138.7" y="553.5" width="12.6" height="12.6"/>
<rect x="269.2" y="529.2" width="12.6" height="12.6"/>
<rect x="300.2" y="539.1" width="12.6" height="12.6"/>
<rect x="334.5" y="694.5" width="12.6" height="12.6"/>
<rect x="365.4" y="710.8" width="12.6" height="12.6"/>
<rect x="399.5" y="709.7" width="12.6" height="12.6"/>
<path d="M145.2,530.9 L151.7,543.1 L138.7,543.1Z"/>
<path d="M340.7,531.1 L347.2,543.3 L334.2,543.3Z"/>
<path d="M371.3,529.7 L377.8,541.9 L364.8,541.9Z"/>
<path d="M406.0,536.9 L412.5,549.1 L399.5,549.1Z"/>
<path d="M436.8,603.2 L443.3,615.4 L430.3,615.4Z"/>
<path d="M471.0,715.8 L477.5,728.0 L464.5,728.0Z"/>
</g>
</svg>
</body></html>
